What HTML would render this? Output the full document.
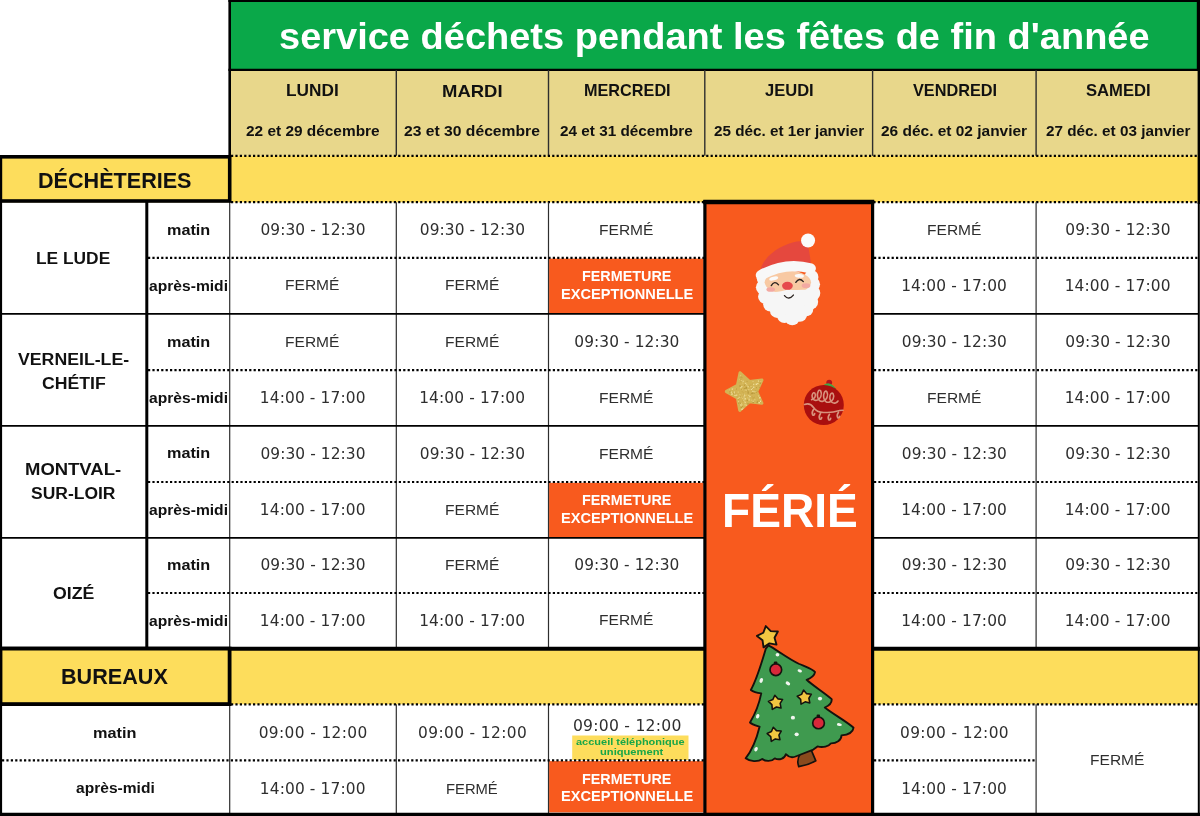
<!DOCTYPE html>
<html lang="fr"><head><meta charset="utf-8"><title>service déchets pendant les fêtes de fin d'année</title>
<style>
html,body{margin:0;padding:0;background:#fff}
body{width:1200px;height:816px;position:relative;overflow:hidden}
#g{position:absolute;left:0;top:0}
.t{position:absolute;white-space:nowrap;transform-origin:0 0}
</style></head><body>
<svg id="g" width="1200" height="816" viewBox="0 0 1200 816">
<rect x="230.00" y="1.00" width="968.50" height="68.80" fill="#0aa849"/>
<rect x="230.00" y="69.80" width="968.50" height="86.00" fill="#e8d78b"/>
<rect x="0.00" y="155.80" width="1198.50" height="46.50" fill="#fddd5c"/>
<rect x="0.00" y="648.70" width="1198.50" height="55.60" fill="#fddd5c"/>
<rect x="549.10" y="258.60" width="154.60" height="54.40" fill="#f85a1e"/>
<rect x="549.10" y="482.80" width="154.60" height="54.20" fill="#f85a1e"/>
<rect x="549.10" y="761.10" width="154.60" height="51.30" fill="#f85a1e"/>
<rect x="572.20" y="735.50" width="116.30" height="24.50" fill="#fddd5c"/>
<line x1="228.40" y1="1.00" x2="1200.00" y2="1.00" stroke="#000" stroke-width="2"/>
<line x1="228.40" y1="69.80" x2="1200.00" y2="69.80" stroke="#000" stroke-width="2.2"/>
<line x1="229.70" y1="0.00" x2="229.70" y2="157.00" stroke="#000" stroke-width="2.6"/>
<line x1="1198.40" y1="0.00" x2="1198.40" y2="70.00" stroke="#000" stroke-width="3.2"/>
<line x1="1198.80" y1="70.00" x2="1198.80" y2="204.00" stroke="#000" stroke-width="2.4"/>
<line x1="396.30" y1="70.00" x2="396.30" y2="155.80" stroke="#2e2e2e" stroke-width="1.4"/>
<line x1="548.50" y1="70.00" x2="548.50" y2="155.80" stroke="#2e2e2e" stroke-width="1.4"/>
<line x1="704.80" y1="70.00" x2="704.80" y2="155.80" stroke="#2e2e2e" stroke-width="1.4"/>
<line x1="872.60" y1="70.00" x2="872.60" y2="155.80" stroke="#2e2e2e" stroke-width="1.4"/>
<line x1="1036.10" y1="70.00" x2="1036.10" y2="155.80" stroke="#2e2e2e" stroke-width="1.4"/>
<line x1="231.00" y1="155.90" x2="1197.50" y2="155.90" stroke="#000" stroke-width="2.2" stroke-dasharray="2.2 2.2"/>
<line x1="231.00" y1="202.20" x2="1197.50" y2="202.20" stroke="#000" stroke-width="2.2" stroke-dasharray="2.2 2.2"/>
<line x1="1.00" y1="155.00" x2="1.00" y2="816.00" stroke="#000" stroke-width="2.2"/>
<line x1="146.80" y1="202.00" x2="146.80" y2="648.00" stroke="#000" stroke-width="3"/>
<line x1="229.70" y1="202.00" x2="229.70" y2="648.00" stroke="#2e2e2e" stroke-width="1.2"/>
<line x1="229.70" y1="704.00" x2="229.70" y2="816.00" stroke="#2e2e2e" stroke-width="1.2"/>
<line x1="396.30" y1="202.30" x2="396.30" y2="648.00" stroke="#2e2e2e" stroke-width="1.2"/>
<line x1="396.30" y1="704.30" x2="396.30" y2="816.00" stroke="#2e2e2e" stroke-width="1.2"/>
<line x1="548.50" y1="202.30" x2="548.50" y2="648.00" stroke="#2e2e2e" stroke-width="1.2"/>
<line x1="548.50" y1="704.30" x2="548.50" y2="816.00" stroke="#2e2e2e" stroke-width="1.2"/>
<line x1="1036.10" y1="202.30" x2="1036.10" y2="648.00" stroke="#2e2e2e" stroke-width="1.2"/>
<line x1="1036.10" y1="704.30" x2="1036.10" y2="816.00" stroke="#2e2e2e" stroke-width="1.2"/>
<line x1="1198.80" y1="202.00" x2="1198.80" y2="816.00" stroke="#000" stroke-width="2.0"/>
<line x1="148.00" y1="257.80" x2="704.00" y2="257.80" stroke="#000" stroke-width="2.2" stroke-dasharray="2.2 2.2"/>
<line x1="874.00" y1="257.80" x2="1197.50" y2="257.80" stroke="#000" stroke-width="2.2" stroke-dasharray="2.2 2.2"/>
<line x1="0.00" y1="313.80" x2="704.00" y2="313.80" stroke="#000" stroke-width="1.8"/>
<line x1="874.00" y1="313.80" x2="1198.00" y2="313.80" stroke="#000" stroke-width="1.8"/>
<line x1="148.00" y1="370.20" x2="704.00" y2="370.20" stroke="#000" stroke-width="2.2" stroke-dasharray="2.2 2.2"/>
<line x1="874.00" y1="370.20" x2="1197.50" y2="370.20" stroke="#000" stroke-width="2.2" stroke-dasharray="2.2 2.2"/>
<line x1="0.00" y1="425.80" x2="704.00" y2="425.80" stroke="#000" stroke-width="1.8"/>
<line x1="874.00" y1="425.80" x2="1198.00" y2="425.80" stroke="#000" stroke-width="1.8"/>
<line x1="148.00" y1="482.00" x2="704.00" y2="482.00" stroke="#000" stroke-width="2.2" stroke-dasharray="2.2 2.2"/>
<line x1="874.00" y1="482.00" x2="1197.50" y2="482.00" stroke="#000" stroke-width="2.2" stroke-dasharray="2.2 2.2"/>
<line x1="0.00" y1="537.80" x2="704.00" y2="537.80" stroke="#000" stroke-width="1.8"/>
<line x1="874.00" y1="537.80" x2="1198.00" y2="537.80" stroke="#000" stroke-width="1.8"/>
<line x1="148.00" y1="593.00" x2="704.00" y2="593.00" stroke="#000" stroke-width="2.2" stroke-dasharray="2.2 2.2"/>
<line x1="874.00" y1="593.00" x2="1197.50" y2="593.00" stroke="#000" stroke-width="2.2" stroke-dasharray="2.2 2.2"/>
<line x1="0.00" y1="648.70" x2="1200.00" y2="648.70" stroke="#000" stroke-width="4"/>
<line x1="231.00" y1="704.30" x2="704.00" y2="704.30" stroke="#000" stroke-width="2.2" stroke-dasharray="2.2 2.2"/>
<line x1="874.00" y1="704.30" x2="1197.50" y2="704.30" stroke="#000" stroke-width="2.2" stroke-dasharray="2.2 2.2"/>
<line x1="2.00" y1="760.30" x2="704.00" y2="760.30" stroke="#000" stroke-width="2.2" stroke-dasharray="2.2 2.2"/>
<line x1="874.00" y1="760.30" x2="1036.00" y2="760.30" stroke="#000" stroke-width="2.2" stroke-dasharray="2.2 2.2"/>
<line x1="0.00" y1="814.40" x2="1200.00" y2="814.40" stroke="#000" stroke-width="3.4"/>
<rect x="0.40" y="156.80" width="229.30" height="44.20" fill="#fddd5c" stroke="#000" stroke-width="3.6"/>
<rect x="0.50" y="648.60" width="229.10" height="55.50" fill="#fddd5c" stroke="#000" stroke-width="3.8"/>
<rect x="704.90" y="201.80" width="167.70" height="612.50" fill="#f85a1e" stroke="#000" stroke-width="3.2"/>
<line x1="703.30" y1="202.00" x2="874.20" y2="202.00" stroke="#000" stroke-width="4.5"/>
<g transform="translate(740,225) scale(0.13477)">
<path d="M152 330 C172 255 245 188 330 152 C395 124 455 108 500 135 C515 195 522 250 528 300 L340 300 Z" fill="#e5483e"/>
<ellipse cx="357" cy="500" rx="185" ry="165" fill="#f6f6f6"/>
<circle cx="180" cy="395" r="56" fill="#f6f6f6"/>
<circle cx="174" cy="462" r="56" fill="#f6f6f6"/>
<circle cx="190" cy="530" r="56" fill="#f6f6f6"/>
<circle cx="226" cy="588" r="54" fill="#f6f6f6"/>
<circle cx="276" cy="636" r="54" fill="#f6f6f6"/>
<circle cx="330" cy="674" r="54" fill="#f6f6f6"/>
<circle cx="388" cy="690" r="54" fill="#f6f6f6"/>
<circle cx="444" cy="664" r="54" fill="#f6f6f6"/>
<circle cx="490" cy="624" r="54" fill="#f6f6f6"/>
<circle cx="524" cy="570" r="56" fill="#f6f6f6"/>
<circle cx="540" cy="505" r="56" fill="#f6f6f6"/>
<circle cx="538" cy="440" r="56" fill="#f6f6f6"/>
<circle cx="530" cy="385" r="52" fill="#f6f6f6"/>
<ellipse cx="355" cy="425" rx="172" ry="85" fill="#f8c9a3"/>
<ellipse cx="228" cy="478" rx="32" ry="17" fill="#f3a9a2"/>
<ellipse cx="490" cy="450" rx="32" ry="17" fill="#f3a9a2"/>
<path d="M180 520 C220 492 290 500 352 480 C410 488 470 470 530 488 L540 580 L180 600 Z" fill="#f6f6f6"/>
<path d="M155 372 Q340 270 525 322" fill="none" stroke="#f8f8f8" stroke-width="76" stroke-linecap="round"/>
<ellipse cx="250" cy="397" rx="34" ry="14" transform="rotate(-12 250 397)" fill="#fafafa"/>
<ellipse cx="440" cy="378" rx="34" ry="14" transform="rotate(4 440 378)" fill="#fafafa"/>
<path d="M232 450 Q256 408 286 444" fill="none" stroke="#2a2320" stroke-width="10" stroke-linecap="round"/>
<path d="M414 426 Q440 386 470 420" fill="none" stroke="#2a2320" stroke-width="10" stroke-linecap="round"/>
<ellipse cx="352" cy="451" rx="40" ry="30" fill="#e64a4c"/>
<path d="M330 524 Q362 562 396 520" fill="none" stroke="#2a2320" stroke-width="10" stroke-linecap="round"/>
<circle cx="505" cy="115" r="52" fill="#fbfbfb"/>
</g>
<polygon points="740.1,372.9 749.3,381.5 761.9,380.2 756.6,391.7 761.8,403.2 749.2,401.7 739.8,410.2 737.4,397.8 726.4,391.5 737.5,385.3" fill="#d3b455" stroke="#d3b455" stroke-width="3.2" stroke-linejoin="round"/>
<rect x="747.5" y="386.0" width="1.4" height="1.4" fill="#ead68a"/>
<rect x="742.6" y="380.7" width="1.1" height="1.1" fill="#f0e0a0"/>
<rect x="734.3" y="394.0" width="1.1" height="1.1" fill="#c2a244"/>
<rect x="742.6" y="393.3" width="1.1" height="1.1" fill="#f0e0a0"/>
<rect x="748.5" y="399.2" width="1.4" height="1.4" fill="#ead68a"/>
<rect x="748.7" y="396.6" width="1.4" height="1.4" fill="#b8983c"/>
<rect x="747.3" y="403.2" width="1.4" height="1.4" fill="#b8983c"/>
<rect x="737.6" y="391.4" width="1.4" height="1.4" fill="#e0c870"/>
<rect x="743.9" y="396.2" width="0.9" height="0.9" fill="#ead68a"/>
<rect x="739.3" y="385.3" width="1.4" height="1.4" fill="#b8983c"/>
<rect x="755.7" y="383.6" width="1.4" height="1.4" fill="#f0e0a0"/>
<rect x="759.5" y="382.6" width="1.4" height="1.4" fill="#b8983c"/>
<rect x="739.9" y="396.3" width="0.9" height="0.9" fill="#b8983c"/>
<rect x="756.0" y="387.3" width="0.9" height="0.9" fill="#b8983c"/>
<rect x="743.1" y="393.7" width="1.1" height="1.1" fill="#caa94a"/>
<rect x="741.0" y="380.3" width="0.9" height="0.9" fill="#ead68a"/>
<rect x="731.1" y="393.1" width="1.4" height="1.4" fill="#f0e0a0"/>
<rect x="752.5" y="401.7" width="1.4" height="1.4" fill="#b8983c"/>
<rect x="758.5" y="387.1" width="1.1" height="1.1" fill="#b8983c"/>
<rect x="740.3" y="375.8" width="1.1" height="1.1" fill="#b8983c"/>
<rect x="745.2" y="383.7" width="0.9" height="0.9" fill="#c2a244"/>
<rect x="756.5" y="401.7" width="1.4" height="1.4" fill="#b8983c"/>
<rect x="731.2" y="393.4" width="1.4" height="1.4" fill="#ead68a"/>
<rect x="737.5" y="397.6" width="1.4" height="1.4" fill="#ead68a"/>
<rect x="734.4" y="393.3" width="1.1" height="1.1" fill="#f0e0a0"/>
<rect x="751.7" y="396.4" width="0.9" height="0.9" fill="#c2a244"/>
<rect x="759.4" y="401.7" width="0.9" height="0.9" fill="#c2a244"/>
<rect x="746.7" y="385.5" width="0.9" height="0.9" fill="#ead68a"/>
<rect x="739.5" y="404.6" width="1.1" height="1.1" fill="#caa94a"/>
<rect x="756.5" y="390.7" width="1.1" height="1.1" fill="#c2a244"/>
<rect x="758.1" y="384.6" width="1.1" height="1.1" fill="#caa94a"/>
<rect x="744.5" y="401.8" width="1.4" height="1.4" fill="#ead68a"/>
<rect x="744.5" y="398.1" width="1.4" height="1.4" fill="#f0e0a0"/>
<rect x="739.7" y="393.6" width="0.9" height="0.9" fill="#c2a244"/>
<rect x="752.3" y="392.7" width="1.1" height="1.1" fill="#c2a244"/>
<rect x="733.9" y="391.6" width="1.1" height="1.1" fill="#f0e0a0"/>
<rect x="735.9" y="388.2" width="0.9" height="0.9" fill="#c2a244"/>
<rect x="744.2" y="395.1" width="1.1" height="1.1" fill="#f0e0a0"/>
<rect x="757.6" y="396.2" width="0.9" height="0.9" fill="#c2a244"/>
<rect x="753.7" y="392.9" width="0.9" height="0.9" fill="#b8983c"/>
<rect x="729.1" y="389.6" width="0.9" height="0.9" fill="#ead68a"/>
<rect x="743.6" y="396.3" width="1.4" height="1.4" fill="#f0e0a0"/>
<rect x="746.5" y="399.7" width="1.4" height="1.4" fill="#b8983c"/>
<rect x="747.4" y="390.7" width="1.4" height="1.4" fill="#c2a244"/>
<rect x="743.8" y="388.1" width="1.1" height="1.1" fill="#b8983c"/>
<rect x="738.3" y="398.8" width="0.9" height="0.9" fill="#b8983c"/>
<rect x="740.4" y="381.2" width="1.1" height="1.1" fill="#c2a244"/>
<rect x="741.7" y="391.1" width="0.9" height="0.9" fill="#caa94a"/>
<rect x="731.8" y="388.7" width="1.1" height="1.1" fill="#f0e0a0"/>
<rect x="739.2" y="378.8" width="0.9" height="0.9" fill="#e0c870"/>
<rect x="748.3" y="389.1" width="1.1" height="1.1" fill="#ead68a"/>
<rect x="738.9" y="396.8" width="0.9" height="0.9" fill="#f0e0a0"/>
<rect x="747.5" y="392.2" width="1.4" height="1.4" fill="#b8983c"/>
<rect x="738.7" y="382.3" width="0.9" height="0.9" fill="#caa94a"/>
<rect x="739.2" y="393.8" width="1.4" height="1.4" fill="#e0c870"/>
<rect x="730.4" y="392.7" width="0.9" height="0.9" fill="#c2a244"/>
<rect x="751.4" y="392.9" width="1.1" height="1.1" fill="#c2a244"/>
<rect x="743.7" y="398.8" width="1.1" height="1.1" fill="#e0c870"/>
<rect x="746.6" y="380.9" width="0.9" height="0.9" fill="#b8983c"/>
<rect x="752.6" y="397.9" width="1.1" height="1.1" fill="#caa94a"/>
<rect x="752.9" y="386.6" width="1.4" height="1.4" fill="#f0e0a0"/>
<rect x="752.6" y="381.0" width="0.9" height="0.9" fill="#ead68a"/>
<rect x="734.8" y="395.2" width="0.9" height="0.9" fill="#f0e0a0"/>
<rect x="752.6" y="400.7" width="1.1" height="1.1" fill="#f0e0a0"/>
<rect x="757.1" y="400.9" width="0.9" height="0.9" fill="#b8983c"/>
<rect x="736.9" y="396.6" width="0.9" height="0.9" fill="#c2a244"/>
<rect x="759.6" y="400.6" width="1.4" height="1.4" fill="#f0e0a0"/>
<rect x="743.0" y="400.0" width="0.9" height="0.9" fill="#f0e0a0"/>
<rect x="758.5" y="400.5" width="1.4" height="1.4" fill="#caa94a"/>
<rect x="748.5" y="397.0" width="1.4" height="1.4" fill="#caa94a"/>
<rect x="753.6" y="391.2" width="1.1" height="1.1" fill="#ead68a"/>
<rect x="758.5" y="402.0" width="1.4" height="1.4" fill="#f0e0a0"/>
<rect x="728.9" y="392.7" width="1.4" height="1.4" fill="#caa94a"/>
<rect x="744.9" y="404.6" width="0.9" height="0.9" fill="#e0c870"/>
<rect x="745.7" y="386.7" width="1.4" height="1.4" fill="#b8983c"/>
<rect x="750.2" y="384.5" width="1.4" height="1.4" fill="#caa94a"/>
<rect x="754.1" y="396.7" width="0.9" height="0.9" fill="#c2a244"/>
<rect x="745.3" y="391.0" width="0.9" height="0.9" fill="#caa94a"/>
<rect x="754.1" y="399.0" width="1.4" height="1.4" fill="#e0c870"/>
<rect x="746.7" y="390.1" width="0.9" height="0.9" fill="#b8983c"/>
<rect x="744.9" y="382.8" width="1.4" height="1.4" fill="#ead68a"/>
<rect x="745.7" y="389.5" width="1.4" height="1.4" fill="#e0c870"/>
<rect x="740.6" y="387.1" width="0.9" height="0.9" fill="#f0e0a0"/>
<rect x="740.1" y="388.6" width="0.9" height="0.9" fill="#e0c870"/>
<rect x="752.8" y="397.3" width="0.9" height="0.9" fill="#c2a244"/>
<rect x="738.3" y="403.1" width="0.9" height="0.9" fill="#b8983c"/>
<rect x="759.1" y="397.1" width="1.4" height="1.4" fill="#f0e0a0"/>
<rect x="732.2" y="388.0" width="1.1" height="1.1" fill="#e0c870"/>
<rect x="752.4" y="387.7" width="1.1" height="1.1" fill="#c2a244"/>
<rect x="745.3" y="398.7" width="0.9" height="0.9" fill="#ead68a"/>
<rect x="746.0" y="404.7" width="0.9" height="0.9" fill="#f0e0a0"/>
<rect x="744.0" y="384.6" width="1.1" height="1.1" fill="#b8983c"/>
<rect x="735.9" y="394.5" width="1.4" height="1.4" fill="#ead68a"/>
<rect x="745.9" y="394.7" width="0.9" height="0.9" fill="#e0c870"/>
<rect x="753.8" y="392.8" width="0.9" height="0.9" fill="#c2a244"/>
<rect x="741.8" y="389.3" width="0.9" height="0.9" fill="#e0c870"/>
<rect x="744.7" y="389.5" width="0.9" height="0.9" fill="#ead68a"/>
<rect x="731.5" y="392.5" width="0.9" height="0.9" fill="#caa94a"/>
<rect x="744.2" y="393.8" width="0.9" height="0.9" fill="#ead68a"/>
<rect x="757.9" y="380.4" width="1.4" height="1.4" fill="#ead68a"/>
<rect x="751.3" y="392.8" width="1.4" height="1.4" fill="#b8983c"/>
<rect x="760.3" y="380.8" width="0.9" height="0.9" fill="#f0e0a0"/>
<rect x="742.3" y="397.9" width="0.9" height="0.9" fill="#ead68a"/>
<rect x="734.6" y="388.4" width="0.9" height="0.9" fill="#e0c870"/>
<rect x="745.7" y="399.8" width="1.1" height="1.1" fill="#caa94a"/>
<rect x="740.2" y="387.2" width="1.1" height="1.1" fill="#ead68a"/>
<rect x="756.0" y="391.8" width="1.1" height="1.1" fill="#c2a244"/>
<rect x="759.4" y="380.3" width="1.1" height="1.1" fill="#c2a244"/>
<rect x="756.9" y="383.0" width="1.1" height="1.1" fill="#f0e0a0"/>
<rect x="742.4" y="400.4" width="1.1" height="1.1" fill="#c2a244"/>
<rect x="743.9" y="400.5" width="1.4" height="1.4" fill="#e0c870"/>
<rect x="752.4" y="392.6" width="0.9" height="0.9" fill="#b8983c"/>
<rect x="738.1" y="401.1" width="1.1" height="1.1" fill="#e0c870"/>
<rect x="742.6" y="407.8" width="0.9" height="0.9" fill="#f0e0a0"/>
<rect x="741.0" y="402.9" width="1.1" height="1.1" fill="#e0c870"/>
<rect x="733.2" y="393.3" width="0.9" height="0.9" fill="#b8983c"/>
<rect x="738.6" y="401.6" width="0.9" height="0.9" fill="#b8983c"/>
<rect x="751.3" y="387.6" width="0.9" height="0.9" fill="#b8983c"/>
<rect x="744.5" y="404.3" width="1.1" height="1.1" fill="#ead68a"/>
<rect x="750.4" y="385.8" width="1.4" height="1.4" fill="#e0c870"/>
<rect x="755.1" y="390.2" width="1.1" height="1.1" fill="#b8983c"/>
<rect x="730.6" y="391.5" width="1.4" height="1.4" fill="#ead68a"/>
<rect x="757.9" y="395.6" width="0.9" height="0.9" fill="#f0e0a0"/>
<rect x="741.5" y="377.3" width="0.9" height="0.9" fill="#b8983c"/>
<rect x="752.3" y="390.8" width="1.1" height="1.1" fill="#f0e0a0"/>
<rect x="731.7" y="388.5" width="0.9" height="0.9" fill="#ead68a"/>
<rect x="729.0" y="391.5" width="1.1" height="1.1" fill="#caa94a"/>
<rect x="734.9" y="393.2" width="0.9" height="0.9" fill="#caa94a"/>
<rect x="757.7" y="382.9" width="1.4" height="1.4" fill="#e0c870"/>
<rect x="735.9" y="389.1" width="0.9" height="0.9" fill="#c2a244"/>
<rect x="735.3" y="392.7" width="0.9" height="0.9" fill="#caa94a"/>
<rect x="729.3" y="390.5" width="1.1" height="1.1" fill="#c2a244"/>
<rect x="740.6" y="407.0" width="1.4" height="1.4" fill="#b8983c"/>
<rect x="750.0" y="396.6" width="0.9" height="0.9" fill="#c2a244"/>
<rect x="740.5" y="376.5" width="1.1" height="1.1" fill="#c2a244"/>
<rect x="740.6" y="396.7" width="0.9" height="0.9" fill="#ead68a"/>
<rect x="745.3" y="387.7" width="1.4" height="1.4" fill="#b8983c"/>
<rect x="748.1" y="397.4" width="1.4" height="1.4" fill="#ead68a"/>
<rect x="742.2" y="382.5" width="1.1" height="1.1" fill="#e0c870"/>
<rect x="748.8" y="385.6" width="0.9" height="0.9" fill="#b8983c"/>
<rect x="740.3" y="378.9" width="1.1" height="1.1" fill="#caa94a"/>
<rect x="748.2" y="397.5" width="0.9" height="0.9" fill="#b8983c"/>
<rect x="739.6" y="377.4" width="0.9" height="0.9" fill="#c2a244"/>
<rect x="729.6" y="391.2" width="1.1" height="1.1" fill="#c2a244"/>
<rect x="741.3" y="408.6" width="1.4" height="1.4" fill="#f0e0a0"/>
<rect x="742.0" y="406.1" width="0.9" height="0.9" fill="#b8983c"/>
<rect x="740.1" y="376.9" width="0.9" height="0.9" fill="#caa94a"/>
<rect x="750.2" y="393.7" width="1.1" height="1.1" fill="#caa94a"/>
<rect x="752.3" y="383.5" width="1.1" height="1.1" fill="#c2a244"/>
<rect x="741.3" y="386.0" width="1.1" height="1.1" fill="#f0e0a0"/>
<rect x="743.8" y="396.6" width="0.9" height="0.9" fill="#b8983c"/>
<rect x="740.3" y="404.3" width="1.4" height="1.4" fill="#f0e0a0"/>
<rect x="738.2" y="400.9" width="0.9" height="0.9" fill="#ead68a"/>
<rect x="750.8" y="399.7" width="0.9" height="0.9" fill="#ead68a"/>
<rect x="758.4" y="399.4" width="0.9" height="0.9" fill="#caa94a"/>
<rect x="746.3" y="384.0" width="0.9" height="0.9" fill="#ead68a"/>
<rect x="747.3" y="397.3" width="1.1" height="1.1" fill="#e0c870"/>
<rect x="748.3" y="395.0" width="1.1" height="1.1" fill="#ead68a"/>
<rect x="741.6" y="404.1" width="1.1" height="1.1" fill="#e0c870"/>
<rect x="740.1" y="402.7" width="0.9" height="0.9" fill="#b8983c"/>
<rect x="752.9" y="383.7" width="1.4" height="1.4" fill="#ead68a"/>
<rect x="750.9" y="388.8" width="1.1" height="1.1" fill="#f0e0a0"/>
<rect x="739.9" y="375.1" width="1.4" height="1.4" fill="#e0c870"/>
<rect x="734.4" y="395.1" width="0.9" height="0.9" fill="#f0e0a0"/>
<rect x="757.9" y="387.5" width="0.9" height="0.9" fill="#e0c870"/>
<rect x="749.3" y="395.9" width="1.4" height="1.4" fill="#f0e0a0"/>
<rect x="742.4" y="392.4" width="1.4" height="1.4" fill="#caa94a"/>
<rect x="752.2" y="388.0" width="0.9" height="0.9" fill="#f0e0a0"/>
<rect x="755.4" y="390.7" width="0.9" height="0.9" fill="#f0e0a0"/>
<rect x="740.8" y="388.9" width="0.9" height="0.9" fill="#b8983c"/>
<circle cx="829.2" cy="382.6" r="2.9" fill="#b5121b"/>
<path d="M822.8 386.9 Q829 380.5 835 388.8 Q828.5 386.4 822.8 386.9Z" fill="#3fa845" stroke="#3fa845" stroke-width="1.6" stroke-linejoin="round"/>
<circle cx="823.8" cy="405" r="20" fill="#a90f0f"/>
<path d="M811.6 399.6 c 2.86 -0.6, 4.94 -3.90, 3.22 -6.50 c -1.56 -1.43, -3.22 1.62, -2.60 4.03 c 0.52 2.60, 2.60 3.58, 4.58 3.12 c 3.41 -0.6, 5.89 -5.70, 3.84 -9.50 c -1.86 -2.09, -3.84 2.38, -3.10 5.89 c 0.62 3.80, 3.10 5.23, 5.46 4.56 c 3.41 -0.6, 5.89 -5.70, 3.84 -9.50 c -1.86 -2.09, -3.84 2.38, -3.10 5.89 c 0.62 3.80, 3.10 5.23, 5.46 4.56 c 3.41 -0.6, 5.89 -5.10, 3.84 -8.50 c -1.86 -1.87, -3.84 2.12, -3.10 5.27 c 0.62 3.40, 3.10 4.68, 5.46 4.08 c 1.2 -0.3 2 -1 2.6 -2" fill="none" stroke="#e0aa92" stroke-width="1.6" stroke-opacity="0.85" stroke-linecap="round"/>
<path d="M804.5 404.500 c4 -1.500 7 0 9 3 c2 3 6 5 10 5 c5 0 8 0 12 -1 c3 -0.800 5 -1.200 7.500 -1.200" fill="none" stroke="#e0aa92" stroke-width="1.6" stroke-opacity="0.85" stroke-linecap="round"/>
<path d="M813.5 409.5 q-2.200 3 -0.800 5.500 q1.500 0.800 2 -1.500" fill="none" stroke="#e0aa92" stroke-width="1.6" stroke-opacity="0.85" stroke-linecap="round"/>
<path d="M820.5 413.5 q-2.200 3 -0.800 5.500 q1.500 0.800 2 -1.500" fill="none" stroke="#e0aa92" stroke-width="1.6" stroke-opacity="0.85" stroke-linecap="round"/>
<path d="M829.5 414.3 q-2.200 3 -0.800 5.500 q1.500 0.800 2 -1.500" fill="none" stroke="#e0aa92" stroke-width="1.6" stroke-opacity="0.85" stroke-linecap="round"/>
<path d="M838.5 412.2 q-2.200 3 -0.800 5.500 q1.500 0.800 2 -1.500" fill="none" stroke="#e0aa92" stroke-width="1.6" stroke-opacity="0.85" stroke-linecap="round"/>
<g transform="translate(730,610) scale(0.208333)" stroke-linejoin="round" stroke-linecap="round">
<path d="M338 688 L388 668 L412 724 Q375 745 330 752 Q318 720 338 688Z" fill="#8a4a1d" stroke="#15120e" stroke-width="8"/>
<path d="M185 170 C215 185 280 235 330 258 C370 275 400 285 408 298 C405 318 385 328 368 335 C400 365 450 395 488 428 C490 450 470 462 455 468 C495 500 560 535 593 565 C590 590 560 600 535 602 C535 625 510 640 485 640 C475 655 445 662 420 655 L400 670 L318 702 C300 710 280 705 268 692 C262 715 235 722 215 712 C200 728 170 728 155 715 C135 730 95 728 75 712 C100 680 125 630 142 560 C125 555 105 550 96 540 C120 500 140 450 150 400 C130 398 110 392 100 384 C130 330 150 260 172 185 Z" fill="#3f9a4f" stroke="#15120e" stroke-width="9"/>
<ellipse cx="228" cy="215" rx="9" ry="8" transform="rotate(0 228 215)" fill="#f1f5ef"/>
<ellipse cx="335" cy="292" rx="11" ry="7" transform="rotate(20 335 292)" fill="#f1f5ef"/>
<ellipse cx="150" cy="338" rx="8" ry="12" transform="rotate(20 150 338)" fill="#f1f5ef"/>
<ellipse cx="278" cy="352" rx="12" ry="8" transform="rotate(35 278 352)" fill="#f1f5ef"/>
<ellipse cx="432" cy="425" rx="10" ry="9" transform="rotate(0 432 425)" fill="#f1f5ef"/>
<ellipse cx="133" cy="510" rx="8" ry="11" transform="rotate(20 133 510)" fill="#f1f5ef"/>
<ellipse cx="302" cy="517" rx="10" ry="9" transform="rotate(0 302 517)" fill="#f1f5ef"/>
<ellipse cx="525" cy="550" rx="12" ry="7" transform="rotate(10 525 550)" fill="#f1f5ef"/>
<ellipse cx="320" cy="597" rx="10" ry="9" transform="rotate(0 320 597)" fill="#f1f5ef"/>
<ellipse cx="125" cy="668" rx="8" ry="11" transform="rotate(25 125 668)" fill="#f1f5ef"/>
<rect x="211" y="247" width="16" height="14" rx="4" fill="#15120e"/>
<circle cx="220" cy="287" r="28" fill="#d8283a" stroke="#15120e" stroke-width="8"/>
<rect x="416" y="502" width="16" height="14" rx="4" fill="#15120e"/>
<circle cx="425" cy="542" r="28" fill="#d8283a" stroke="#15120e" stroke-width="8"/>
<polygon points="215.0,409.4 229.9,426.5 252.4,429.2 240.7,448.6 245.0,470.9 222.9,465.8 203.1,476.8 201.1,454.2 184.5,438.7 205.4,429.9" fill="#f2c641" stroke="#15120e" stroke-width="7.5"/>
<polygon points="353.0,384.4 367.9,401.5 390.4,404.2 378.7,423.6 383.0,445.9 360.9,440.8 341.1,451.8 339.1,429.2 322.5,413.7 343.4,404.9" fill="#f2c641" stroke="#15120e" stroke-width="7.5"/>
<polygon points="207.7,562.5 223.2,579.1 245.8,581.1 234.8,600.9 239.9,623.0 217.6,618.7 198.2,630.4 195.5,607.9 178.4,593.0 198.9,583.4" fill="#f2c641" stroke="#15120e" stroke-width="7.5"/>
<polygon points="171.8,77.2 195.6,101.7 229.8,103.0 213.8,133.2 223.1,166.1 189.4,160.3 161.0,179.3 156.2,145.5 129.3,124.4 160.0,109.3" fill="#f2c641" stroke="#15120e" stroke-width="9"/>
</g>
</svg>
<div class="t" style="left:279.17px;top:12.95px;font:700 36.5px/47px 'Liberation Sans',sans-serif;color:#fff;letter-spacing:0.000px;transform:scaleX(1.0410)">service déchets pendant les fêtes de fin d'année</div>
<div class="t" style="left:286.38px;top:81.46px;font:700 15.7px/20px 'Liberation Sans',sans-serif;color:#111;letter-spacing:0.000px;transform:scaleX(1.0997)">LUNDI</div>
<div class="t" style="left:245.79px;top:121.51px;font:700 14.4px/19px 'Liberation Sans',sans-serif;color:#111;letter-spacing:0.000px;transform:scaleX(1.0707)">22 et 29 décembre</div>
<div class="t" style="left:442.10px;top:81.04px;font:700 16.9px/22px 'Liberation Sans',sans-serif;color:#111;letter-spacing:0.000px;transform:scaleX(1.0951)">MARDI</div>
<div class="t" style="left:404.33px;top:121.51px;font:700 14.4px/19px 'Liberation Sans',sans-serif;color:#111;letter-spacing:0.000px;transform:scaleX(1.0889)">23 et 30 décembre</div>
<div class="t" style="left:583.64px;top:81.46px;font:700 15.7px/20px 'Liberation Sans',sans-serif;color:#111;letter-spacing:0.000px;transform:scaleX(1.0353)">MERCREDI</div>
<div class="t" style="left:560.34px;top:121.51px;font:700 14.4px/19px 'Liberation Sans',sans-serif;color:#111;letter-spacing:0.000px;transform:scaleX(1.0638)">24 et 31 décembre</div>
<div class="t" style="left:764.75px;top:81.46px;font:700 15.7px/20px 'Liberation Sans',sans-serif;color:#111;letter-spacing:0.000px;transform:scaleX(1.0542)">JEUDI</div>
<div class="t" style="left:713.54px;top:121.51px;font:700 14.4px/19px 'Liberation Sans',sans-serif;color:#111;letter-spacing:0.000px;transform:scaleX(1.0599)">25 déc. et 1er janvier</div>
<div class="t" style="left:912.62px;top:81.46px;font:700 15.7px/20px 'Liberation Sans',sans-serif;color:#111;letter-spacing:0.000px;transform:scaleX(1.0378)">VENDREDI</div>
<div class="t" style="left:881.04px;top:121.51px;font:700 14.4px/19px 'Liberation Sans',sans-serif;color:#111;letter-spacing:0.000px;transform:scaleX(1.0743)">26 déc. et 02 janvier</div>
<div class="t" style="left:1085.78px;top:81.46px;font:700 15.7px/20px 'Liberation Sans',sans-serif;color:#111;letter-spacing:0.000px;transform:scaleX(1.0610)">SAMEDI</div>
<div class="t" style="left:1045.54px;top:121.51px;font:700 14.4px/19px 'Liberation Sans',sans-serif;color:#111;letter-spacing:0.000px;transform:scaleX(1.0618)">27 déc. et 03 janvier</div>
<div class="t" style="left:37.85px;top:166.18px;font:700 22px/29px 'Liberation Sans',sans-serif;color:#111;letter-spacing:0.000px;transform:scaleX(0.9811)">DÉCHÈTERIES</div>
<div class="t" style="left:60.95px;top:661.68px;font:700 22px/29px 'Liberation Sans',sans-serif;color:#111;letter-spacing:0.000px;transform:scaleX(0.9818)">BUREAUX</div>
<div class="t" style="left:36.42px;top:248.18px;font:700 16.8px/22px 'Liberation Sans',sans-serif;color:#111;letter-spacing:0.000px;transform:scaleX(1.0336)">LE LUDE</div>
<div class="t" style="left:18.46px;top:348.68px;font:700 16.8px/22px 'Liberation Sans',sans-serif;color:#111;letter-spacing:0.000px;transform:scaleX(1.0549)">VERNEIL-LE-</div>
<div class="t" style="left:41.84px;top:372.68px;font:700 16.8px/22px 'Liberation Sans',sans-serif;color:#111;letter-spacing:0.000px;transform:scaleX(1.0524)">CHÉTIF</div>
<div class="t" style="left:25.45px;top:459.48px;font:700 16.8px/22px 'Liberation Sans',sans-serif;color:#111;letter-spacing:0.000px;transform:scaleX(1.1006)">MONTVAL-</div>
<div class="t" style="left:31.46px;top:483.38px;font:700 16.8px/22px 'Liberation Sans',sans-serif;color:#111;letter-spacing:0.000px;transform:scaleX(1.0414)">SUR-LOIR</div>
<div class="t" style="left:53.09px;top:583.38px;font:700 16.8px/22px 'Liberation Sans',sans-serif;color:#111;letter-spacing:0.000px;transform:scaleX(1.0559)">OIZÉ</div>
<div class="t" style="left:166.75px;top:220.59px;font:700 14.6px/19px 'Liberation Sans',sans-serif;color:#111;letter-spacing:0.000px;transform:scaleX(1.1110)">matin</div>
<div class="t" style="left:148.91px;top:276.54px;font:700 14.6px/19px 'Liberation Sans',sans-serif;color:#111;letter-spacing:0.000px;transform:scaleX(1.0705)">après-midi</div>
<div class="t" style="left:166.75px;top:332.54px;font:700 14.6px/19px 'Liberation Sans',sans-serif;color:#111;letter-spacing:0.000px;transform:scaleX(1.1110)">matin</div>
<div class="t" style="left:148.91px;top:388.74px;font:700 14.6px/19px 'Liberation Sans',sans-serif;color:#111;letter-spacing:0.000px;transform:scaleX(1.0705)">après-midi</div>
<div class="t" style="left:166.75px;top:444.44px;font:700 14.6px/19px 'Liberation Sans',sans-serif;color:#111;letter-spacing:0.000px;transform:scaleX(1.1110)">matin</div>
<div class="t" style="left:148.91px;top:500.64px;font:700 14.6px/19px 'Liberation Sans',sans-serif;color:#111;letter-spacing:0.000px;transform:scaleX(1.0705)">après-midi</div>
<div class="t" style="left:166.75px;top:555.94px;font:700 14.6px/19px 'Liberation Sans',sans-serif;color:#111;letter-spacing:0.000px;transform:scaleX(1.1110)">matin</div>
<div class="t" style="left:148.91px;top:611.59px;font:700 14.6px/19px 'Liberation Sans',sans-serif;color:#111;letter-spacing:0.000px;transform:scaleX(1.0705)">après-midi</div>
<div class="t" style="left:93.24px;top:723.74px;font:700 14.6px/19px 'Liberation Sans',sans-serif;color:#111;letter-spacing:0.000px;transform:scaleX(1.1164)">matin</div>
<div class="t" style="left:75.61px;top:778.74px;font:700 14.6px/19px 'Liberation Sans',sans-serif;color:#111;letter-spacing:0.000px;transform:scaleX(1.0677)">après-midi</div>
<div class="t" style="left:260.40px;top:219.92px;font:400 15.4px/20px 'DejaVu Sans','Liberation Sans',sans-serif;color:#2e2e2e;letter-spacing:0.091px">09:30 - 12:30</div>
<div class="t" style="left:419.80px;top:219.92px;font:400 15.4px/20px 'DejaVu Sans','Liberation Sans',sans-serif;color:#2e2e2e;letter-spacing:0.091px">09:30 - 12:30</div>
<div class="t" style="left:599.31px;top:220.69px;font:400 14.6px/19px 'Liberation Sans',sans-serif;color:#2e2e2e;letter-spacing:0.000px;transform:scaleX(1.0659)">FERMÉ</div>
<div class="t" style="left:926.81px;top:220.69px;font:400 14.6px/19px 'Liberation Sans',sans-serif;color:#2e2e2e;letter-spacing:0.000px;transform:scaleX(1.0659)">FERMÉ</div>
<div class="t" style="left:1065.30px;top:219.92px;font:400 15.4px/20px 'DejaVu Sans','Liberation Sans',sans-serif;color:#2e2e2e;letter-spacing:0.091px">09:30 - 12:30</div>
<div class="t" style="left:285.46px;top:276.44px;font:400 14.6px/19px 'Liberation Sans',sans-serif;color:#2e2e2e;letter-spacing:0.000px;transform:scaleX(1.0659)">FERMÉ</div>
<div class="t" style="left:444.86px;top:276.44px;font:400 14.6px/19px 'Liberation Sans',sans-serif;color:#2e2e2e;letter-spacing:0.000px;transform:scaleX(1.0659)">FERMÉ</div>
<div class="t" style="left:901.13px;top:275.67px;font:400 15.4px/20px 'DejaVu Sans','Liberation Sans',sans-serif;color:#2e2e2e;letter-spacing:0.143px">14:00 - 17:00</div>
<div class="t" style="left:1064.68px;top:275.67px;font:400 15.4px/20px 'DejaVu Sans','Liberation Sans',sans-serif;color:#2e2e2e;letter-spacing:0.143px">14:00 - 17:00</div>
<div class="t" style="left:285.46px;top:332.64px;font:400 14.6px/19px 'Liberation Sans',sans-serif;color:#2e2e2e;letter-spacing:0.000px;transform:scaleX(1.0659)">FERMÉ</div>
<div class="t" style="left:444.86px;top:332.64px;font:400 14.6px/19px 'Liberation Sans',sans-serif;color:#2e2e2e;letter-spacing:0.000px;transform:scaleX(1.0659)">FERMÉ</div>
<div class="t" style="left:574.25px;top:331.87px;font:400 15.4px/20px 'DejaVu Sans','Liberation Sans',sans-serif;color:#2e2e2e;letter-spacing:0.091px">09:30 - 12:30</div>
<div class="t" style="left:901.75px;top:331.87px;font:400 15.4px/20px 'DejaVu Sans','Liberation Sans',sans-serif;color:#2e2e2e;letter-spacing:0.091px">09:30 - 12:30</div>
<div class="t" style="left:1065.30px;top:331.87px;font:400 15.4px/20px 'DejaVu Sans','Liberation Sans',sans-serif;color:#2e2e2e;letter-spacing:0.091px">09:30 - 12:30</div>
<div class="t" style="left:259.78px;top:387.87px;font:400 15.4px/20px 'DejaVu Sans','Liberation Sans',sans-serif;color:#2e2e2e;letter-spacing:0.143px">14:00 - 17:00</div>
<div class="t" style="left:419.18px;top:387.87px;font:400 15.4px/20px 'DejaVu Sans','Liberation Sans',sans-serif;color:#2e2e2e;letter-spacing:0.143px">14:00 - 17:00</div>
<div class="t" style="left:599.31px;top:388.64px;font:400 14.6px/19px 'Liberation Sans',sans-serif;color:#2e2e2e;letter-spacing:0.000px;transform:scaleX(1.0659)">FERMÉ</div>
<div class="t" style="left:926.81px;top:388.64px;font:400 14.6px/19px 'Liberation Sans',sans-serif;color:#2e2e2e;letter-spacing:0.000px;transform:scaleX(1.0659)">FERMÉ</div>
<div class="t" style="left:1064.68px;top:387.87px;font:400 15.4px/20px 'DejaVu Sans','Liberation Sans',sans-serif;color:#2e2e2e;letter-spacing:0.143px">14:00 - 17:00</div>
<div class="t" style="left:260.40px;top:443.77px;font:400 15.4px/20px 'DejaVu Sans','Liberation Sans',sans-serif;color:#2e2e2e;letter-spacing:0.091px">09:30 - 12:30</div>
<div class="t" style="left:419.80px;top:443.77px;font:400 15.4px/20px 'DejaVu Sans','Liberation Sans',sans-serif;color:#2e2e2e;letter-spacing:0.091px">09:30 - 12:30</div>
<div class="t" style="left:599.31px;top:444.54px;font:400 14.6px/19px 'Liberation Sans',sans-serif;color:#2e2e2e;letter-spacing:0.000px;transform:scaleX(1.0659)">FERMÉ</div>
<div class="t" style="left:901.75px;top:443.77px;font:400 15.4px/20px 'DejaVu Sans','Liberation Sans',sans-serif;color:#2e2e2e;letter-spacing:0.091px">09:30 - 12:30</div>
<div class="t" style="left:1065.30px;top:443.77px;font:400 15.4px/20px 'DejaVu Sans','Liberation Sans',sans-serif;color:#2e2e2e;letter-spacing:0.091px">09:30 - 12:30</div>
<div class="t" style="left:259.78px;top:499.77px;font:400 15.4px/20px 'DejaVu Sans','Liberation Sans',sans-serif;color:#2e2e2e;letter-spacing:0.143px">14:00 - 17:00</div>
<div class="t" style="left:444.86px;top:500.54px;font:400 14.6px/19px 'Liberation Sans',sans-serif;color:#2e2e2e;letter-spacing:0.000px;transform:scaleX(1.0659)">FERMÉ</div>
<div class="t" style="left:901.13px;top:499.77px;font:400 15.4px/20px 'DejaVu Sans','Liberation Sans',sans-serif;color:#2e2e2e;letter-spacing:0.143px">14:00 - 17:00</div>
<div class="t" style="left:1064.68px;top:499.77px;font:400 15.4px/20px 'DejaVu Sans','Liberation Sans',sans-serif;color:#2e2e2e;letter-spacing:0.143px">14:00 - 17:00</div>
<div class="t" style="left:260.40px;top:555.27px;font:400 15.4px/20px 'DejaVu Sans','Liberation Sans',sans-serif;color:#2e2e2e;letter-spacing:0.091px">09:30 - 12:30</div>
<div class="t" style="left:444.86px;top:556.04px;font:400 14.6px/19px 'Liberation Sans',sans-serif;color:#2e2e2e;letter-spacing:0.000px;transform:scaleX(1.0659)">FERMÉ</div>
<div class="t" style="left:574.25px;top:555.27px;font:400 15.4px/20px 'DejaVu Sans','Liberation Sans',sans-serif;color:#2e2e2e;letter-spacing:0.091px">09:30 - 12:30</div>
<div class="t" style="left:901.75px;top:555.27px;font:400 15.4px/20px 'DejaVu Sans','Liberation Sans',sans-serif;color:#2e2e2e;letter-spacing:0.091px">09:30 - 12:30</div>
<div class="t" style="left:1065.30px;top:555.27px;font:400 15.4px/20px 'DejaVu Sans','Liberation Sans',sans-serif;color:#2e2e2e;letter-spacing:0.091px">09:30 - 12:30</div>
<div class="t" style="left:259.78px;top:610.72px;font:400 15.4px/20px 'DejaVu Sans','Liberation Sans',sans-serif;color:#2e2e2e;letter-spacing:0.143px">14:00 - 17:00</div>
<div class="t" style="left:419.18px;top:610.72px;font:400 15.4px/20px 'DejaVu Sans','Liberation Sans',sans-serif;color:#2e2e2e;letter-spacing:0.143px">14:00 - 17:00</div>
<div class="t" style="left:599.31px;top:611.49px;font:400 14.6px/19px 'Liberation Sans',sans-serif;color:#2e2e2e;letter-spacing:0.000px;transform:scaleX(1.0659)">FERMÉ</div>
<div class="t" style="left:901.13px;top:610.72px;font:400 15.4px/20px 'DejaVu Sans','Liberation Sans',sans-serif;color:#2e2e2e;letter-spacing:0.143px">14:00 - 17:00</div>
<div class="t" style="left:1064.68px;top:610.72px;font:400 15.4px/20px 'DejaVu Sans','Liberation Sans',sans-serif;color:#2e2e2e;letter-spacing:0.143px">14:00 - 17:00</div>
<div class="t" style="left:258.65px;top:723.37px;font:400 15.4px/20px 'DejaVu Sans','Liberation Sans',sans-serif;color:#2e2e2e;letter-spacing:0.383px">09:00 - 12:00</div>
<div class="t" style="left:259.78px;top:778.67px;font:400 15.4px/20px 'DejaVu Sans','Liberation Sans',sans-serif;color:#2e2e2e;letter-spacing:0.143px">14:00 - 17:00</div>
<div class="t" style="left:418.05px;top:723.37px;font:400 15.4px/20px 'DejaVu Sans','Liberation Sans',sans-serif;color:#2e2e2e;letter-spacing:0.383px">09:00 - 12:00</div>
<div class="t" style="left:446.22px;top:780.48px;font:400 14.2px/18px 'Liberation Sans',sans-serif;color:#2e2e2e;letter-spacing:0.000px;transform:scaleX(1.0418)">FERMÉ</div>
<div class="t" style="left:900.00px;top:723.37px;font:400 15.4px/20px 'DejaVu Sans','Liberation Sans',sans-serif;color:#2e2e2e;letter-spacing:0.383px">09:00 - 12:00</div>
<div class="t" style="left:901.13px;top:778.67px;font:400 15.4px/20px 'DejaVu Sans','Liberation Sans',sans-serif;color:#2e2e2e;letter-spacing:0.143px">14:00 - 17:00</div>
<div class="t" style="left:572.89px;top:715.80px;font:400 15.6px/20px 'DejaVu Sans','Liberation Sans',sans-serif;color:#2e2e2e;letter-spacing:0.256px">09:00 - 12:00</div>
<div class="t" style="left:1090.26px;top:751.04px;font:400 14.6px/19px 'Liberation Sans',sans-serif;color:#2e2e2e;letter-spacing:0.000px;transform:scaleX(1.0659)">FERMÉ</div>
<div class="t" style="left:576.43px;top:735.10px;font:700 9.8px/13px 'Liberation Sans',sans-serif;color:#17a648;letter-spacing:0.000px;transform:scaleX(1.1205)">accueil téléphonique</div>
<div class="t" style="left:599.58px;top:744.90px;font:700 9.8px/13px 'Liberation Sans',sans-serif;color:#17a648;letter-spacing:0.000px;transform:scaleX(1.1388)">uniquement</div>
<div class="t" style="left:582.47px;top:267.01px;font:700 14.1px/18px 'Liberation Sans',sans-serif;color:#fff;letter-spacing:0.000px;transform:scaleX(1.0198)">FERMETURE</div>
<div class="t" style="left:561.05px;top:284.91px;font:700 14.1px/18px 'Liberation Sans',sans-serif;color:#fff;letter-spacing:0.000px;transform:scaleX(1.0359)">EXCEPTIONNELLE</div>
<div class="t" style="left:582.47px;top:491.21px;font:700 14.1px/18px 'Liberation Sans',sans-serif;color:#fff;letter-spacing:0.000px;transform:scaleX(1.0198)">FERMETURE</div>
<div class="t" style="left:561.05px;top:509.11px;font:700 14.1px/18px 'Liberation Sans',sans-serif;color:#fff;letter-spacing:0.000px;transform:scaleX(1.0359)">EXCEPTIONNELLE</div>
<div class="t" style="left:582.47px;top:769.51px;font:700 14.1px/18px 'Liberation Sans',sans-serif;color:#fff;letter-spacing:0.000px;transform:scaleX(1.0198)">FERMETURE</div>
<div class="t" style="left:561.05px;top:787.41px;font:700 14.1px/18px 'Liberation Sans',sans-serif;color:#fff;letter-spacing:0.000px;transform:scaleX(1.0359)">EXCEPTIONNELLE</div>
<div class="t" style="left:721.73px;top:479.00px;font:700 48.2px/63px 'Liberation Sans',sans-serif;color:#fff;letter-spacing:0.000px;transform:scaleX(0.9575)">FÉRIÉ</div>
</body></html>
